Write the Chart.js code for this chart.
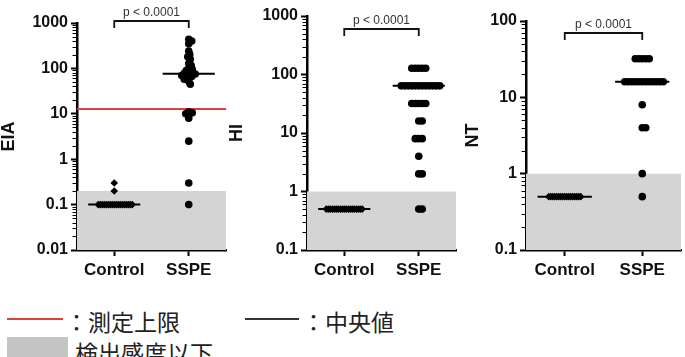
<!DOCTYPE html>
<html>
<head>
<meta charset="utf-8">
<script src="https://cdn.jsdelivr.net/npm/chart.js@4.4.0/dist/chart.umd.min.js"></script>
<style>
  body { margin: 0; width: 685px; height: 357px; overflow: hidden; background: #fff; position: relative; }
  .panel { position: absolute; top: 0; height: 290px; }
  .lg { position: absolute; font-family: "Noto Sans CJK JP", sans-serif; font-size: 23px; line-height: 1; color: #222; white-space: nowrap; }
  .mark { position: absolute; }
</style>
</head>
<body>
<div class="panel" style="left:0;width:230px"><canvas id="eiaChart"></canvas></div>
<div class="panel" style="left:228px;width:232px"><canvas id="hiChart"></canvas></div>
<div class="panel" style="left:464px;width:221px"><canvas id="ntChart"></canvas></div>

<div class="mark" style="left:7px;top:318px;width:56px;height:2px;background:#d9413b"></div>
<div class="lg" style="left:65px;top:310px">：測定上限</div>
<div class="mark" style="left:245px;top:318px;width:54px;height:2px;background:#333"></div>
<div class="lg" style="left:302px;top:310px">：中央値</div>
<div class="mark" style="left:7px;top:337px;width:61px;height:25px;background:#c4c4c4"></div>
<div class="lg" style="left:75px;top:341px">検出感度以下</div>

<script>
const categories = ["Control", "SSPE"];
const pText = "p < 0.0001";

// EIA
const eiaControl = [0.3, 0.2, 0.1, 0.1, 0.1, 0.1, 0.1, 0.1, 0.1, 0.1, 0.1, 0.1, 0.1, 0.1, 0.1, 0.1, 0.1, 0.1, 0.1, 0.1];
const eiaSSPE = [440, 400, 350, 240, 205, 180, 160, 130, 115, 100, 95, 90, 85, 80, 78, 75, 72, 70, 66, 62, 58, 52, 45, 11, 10.5, 10, 8, 2.5, 0.3, 0.1];
const eiaTicks = [0.01, 0.1, 1, 10, 100, 1000];
const eiaUpperLimit = 12.8;
const eiaDetectLimit = 0.2;

// HI
const hiControl = [0.5, 0.5, 0.5, 0.5, 0.5, 0.5, 0.5, 0.5, 0.5, 0.5, 0.5, 0.5, 0.5, 0.5, 0.5, 0.5, 0.5, 0.5, 0.5];
const hiSSPE = [128, 128, 128, 128, 128, 64, 64, 64, 64, 64, 64, 64, 64, 64, 64, 64, 64, 32, 32, 32, 32, 32, 16, 16, 8, 8, 8, 4, 2, 2, 0.5, 0.5];
const hiTicks = [0.1, 1, 10, 100, 1000];
const hiDetectLimit = 1;

// NT
const ntControl = [0.5, 0.5, 0.5, 0.5, 0.5, 0.5, 0.5, 0.5, 0.5, 0.5, 0.5, 0.5, 0.5, 0.5, 0.5, 0.5, 0.5];
const ntSSPE = [32, 32, 32, 32, 32, 16, 16, 16, 16, 16, 16, 16, 16, 16, 16, 16, 16, 8, 4, 4, 1, 0.5];
const ntTicks = [0.1, 1, 10, 100];
const ntDetectLimit = 1;

function median(arr) {
  const s = [...arr].sort((a, b) => a - b);
  const m = Math.floor(s.length / 2);
  return s.length % 2 ? s[m] : (s[m - 1] + s[m]) / 2;
}

function logTicks(majors) {
  const out = [];
  majors.forEach((v, i) => {
    out.push({ value: v });
    if (i < majors.length - 1) {
      for (let m = 2; m < 10; m++) out.push({ value: v * m });
    }
  });
  return out;
}

// spread dots sideways so they do not sit on top of each other
function placeSwarm(chart) {
  const xs = chart.scales.x, ys = chart.scales.y;
  const unit = xs.getPixelForValue(2) - xs.getPixelForValue(1);
  chart.data.datasets.forEach(ds => {
    if (!ds.values) return;
    const placed = [];
    ds.data = ds.values.map(v => {
      const py = ys.getPixelForValue(v);
      let off = 0;
      for (let k = 0; k < 400; k++) {
        off = (k % 2 ? 1 : -1) * Math.ceil(k / 2) * 0.5;
        if (placed.every(p => Math.hypot(p[0] - off, p[1] - py) >= ds.gap)) break;
      }
      placed.push([off, py]);
      return { x: ds.cat + off / unit, y: v };
    });
  });
  chart.update("none");
}

const minorTicks = {
  id: "minorTicks",
  afterDraw(chart, args, o) {
    const y = chart.scales.y, ctx = chart.ctx;
    ctx.save();
    ctx.strokeStyle = "#000";
    ctx.lineWidth = 1;
    y.ticks.forEach(t => {
      if (o.majors.includes(t.value)) return;
      const py = Math.round(y.getPixelForValue(t.value)) + 0.5;
      ctx.beginPath();
      ctx.moveTo(y.right - 4.5, py);
      ctx.lineTo(y.right, py);
      ctx.stroke();
    });
    ctx.restore();
  }
};

const bracket = {
  id: "bracket",
  afterDraw(chart, args, o) {
    const x = chart.scales.x, ctx = chart.ctx;
    const x1 = x.getPixelForValue(1), x2 = x.getPixelForValue(2);
    ctx.save();
    ctx.strokeStyle = "#111";
    ctx.lineWidth = 1.8;
    ctx.beginPath();
    ctx.moveTo(x1, o.y + 7);
    ctx.lineTo(x1, o.y);
    ctx.lineTo(x2, o.y);
    ctx.lineTo(x2, o.y + 7);
    ctx.stroke();
    ctx.fillStyle = "#333";
    ctx.font = "12px 'Liberation Sans', Arial, sans-serif";
    ctx.textAlign = "center";
    ctx.textBaseline = "bottom";
    ctx.fillText(o.text, (x1 + x2) / 2, o.y - 2);
    ctx.restore();
  }
};

function makePanel(id, p) {
  const datasets = [
    {
      values: p.control, cat: 1, gap: 2,
      data: p.control.map(v => ({ x: 1, y: v })),
      pointStyle: "rectRot", pointRadius: 3.8, backgroundColor: "#000", borderWidth: 0, order: 1
    },
    {
      values: p.sspe, cat: 2, gap: 3.2,
      data: p.sspe.map(v => ({ x: 2, y: v })),
      pointStyle: "circle", pointRadius: 3.8, backgroundColor: "#000", borderWidth: 0, order: 1
    },
    {
      type: "line", showLine: true, order: 0,
      data: [{ x: 1 - 0.35, y: median(p.control) }, { x: 1 + 0.35, y: median(p.control) }],
      borderColor: "#000", borderWidth: 2, pointRadius: 0
    },
    {
      type: "line", showLine: true, order: 0,
      data: [{ x: 2 - 0.35, y: median(p.sspe) }, { x: 2 + 0.35, y: median(p.sspe) }],
      borderColor: "#000", borderWidth: 2, pointRadius: 0
    },
    {
      type: "line", showLine: true, order: 5,
      data: [{ x: 0.5, y: p.limit }, { x: 2.5, y: p.limit }],
      borderWidth: 0, pointRadius: 0, fill: "start", backgroundColor: "#d4d4d4"
    }
  ];
  if (p.upper) {
    datasets.push({
      type: "line", showLine: true, order: 2,
      data: [{ x: 0.5, y: p.upper }, { x: 2.5, y: p.upper }],
      borderColor: "#d9413b", borderWidth: 2, pointRadius: 0
    });
  }

  const chart = new Chart(document.getElementById(id), {
    type: "scatter",
    data: { datasets },
    options: {
      responsive: true,
      maintainAspectRatio: false,
      animation: false,
      layout: { padding: { top: p.top, right: p.right, left: 0, bottom: 0 } },
      plugins: {
        legend: { display: false },
        tooltip: { enabled: false },
        minorTicks: { majors: p.ticks },
        bracket: { y: p.bracketY, text: pText }
      },
      scales: {
        x: {
          type: "linear", min: 0.5, max: 2.5,
          afterBuildTicks: s => { s.ticks = [{ value: 1 }, { value: 2 }]; },
          afterFit: s => { s.height = 40; },
          ticks: {
            callback: v => categories[v - 1],
            font: { family: "'Liberation Sans', Arial, sans-serif", size: 17, weight: "bold" },
            color: "#111", padding: 4, maxRotation: 0
          },
          grid: { drawOnChartArea: false, tickLength: 6, tickWidth: 2, tickColor: "#000" },
          border: { color: "#000", width: 2.5 }
        },
        y: {
          type: "logarithmic",
          min: p.ticks[0], max: p.ticks[p.ticks.length - 1],
          afterBuildTicks: s => { s.ticks = logTicks(p.ticks); },
          afterFit: s => { s.width = p.axisWidth; },
          ticks: {
            autoSkip: false,
            callback: v => (p.ticks.includes(v) ? String(v) : ""),
            font: { family: "'Liberation Sans', Arial, sans-serif", size: 16, weight: "bold" },
            color: "#111", padding: 3
          },
          grid: {
            drawOnChartArea: false, tickLength: 6, tickWidth: 2,
            tickColor: c => (c.tick && p.ticks.includes(c.tick.value) ? "#000" : "rgba(0,0,0,0)")
          },
          border: { color: "#000", width: 2.5 },
          title: {
            display: true, text: p.title, color: "#111", padding: 0,
            font: { family: "'Liberation Sans', Arial, sans-serif", size: 18, weight: "bold", lineHeight: 1 }
          }
        }
      }
    },
    plugins: [minorTicks, bracket]
  });
  placeSwarm(chart);
  return chart;
}

makePanel("eiaChart", {
  title: "EIA", control: eiaControl, sspe: eiaSSPE, ticks: eiaTicks,
  limit: eiaDetectLimit, upper: eiaUpperLimit,
  top: 23, right: 2, axisWidth: 77, bracketY: 21
});
makePanel("hiChart", {
  title: "HI", control: hiControl, sspe: hiSSPE, ticks: hiTicks,
  limit: hiDetectLimit, top: 16, right: 0, axisWidth: 79, bracketY: 29
});
makePanel("ntChart", {
  title: "NT", control: ntControl, sspe: ntSSPE, ticks: ntTicks,
  limit: ntDetectLimit, top: 21, right: 2, axisWidth: 62, bracketY: 33
});
</script>
</body>
</html>
